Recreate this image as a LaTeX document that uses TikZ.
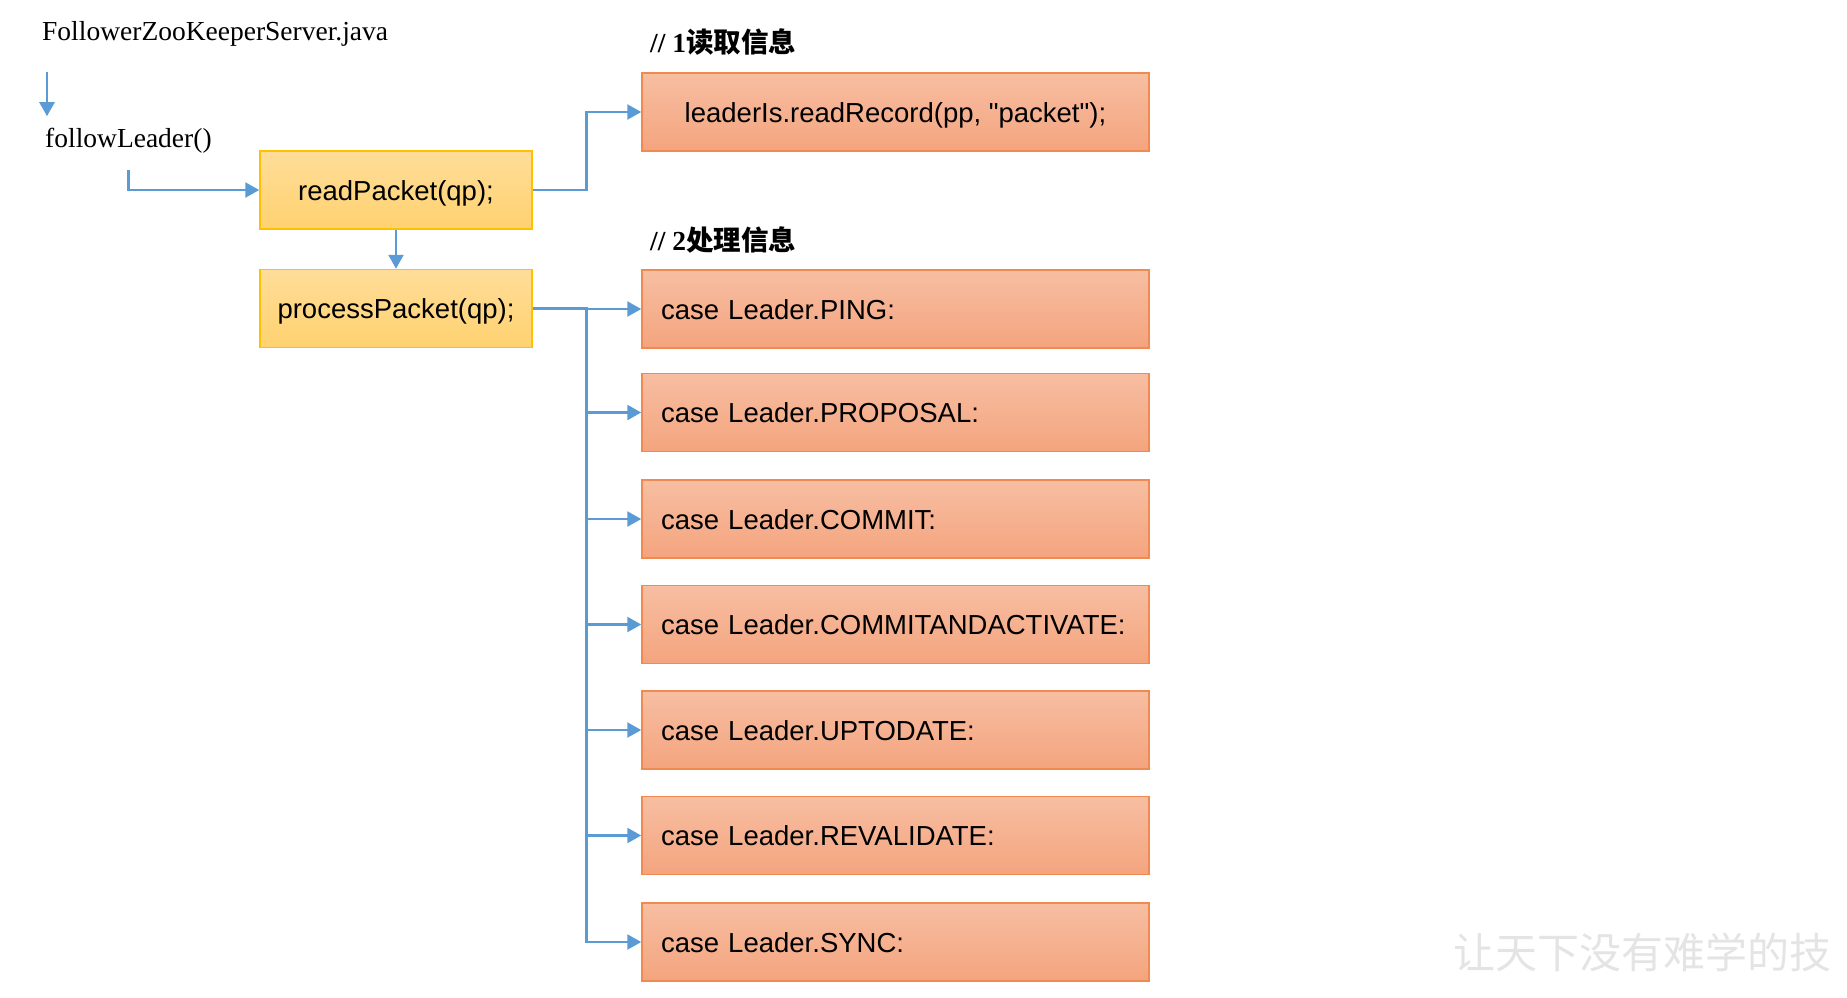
\documentclass[tikz,border=0pt]{standalone}
\usepackage{fontspec}
\setmainfont{Liberation Serif}
\setsansfont{Liberation Sans}[Ligatures=TeXOff]
\newfontfamily\cjk{Noto Sans CJK SC}
\usetikzlibrary{arrows.meta}

\definecolor{flowblue}{RGB}{91,155,213}
\definecolor{calltop}{RGB}{255,221,153}
\definecolor{callbottom}{RGB}{255,210,112}
\definecolor{calledge}{RGB}{255,192,0}
\definecolor{casetop}{RGB}{247,190,162}
\definecolor{casebottom}{RGB}{244,164,126}
\definecolor{caseedge}{RGB}{240,138,80}
\definecolor{markgray}{RGB}{228,228,228}

\begin{document}
\begin{tikzpicture}[x=1pt, y=-1pt,
    callbox/.style={draw=calledge, line width=1.5pt, top color=calltop, bottom color=callbottom,
                    minimum width=272pt, minimum height=78pt, text centered,
                    text height=20pt, text depth=0pt,
                    font=\sffamily\fontsize{27.5}{32}\selectfont},
    orangebox/.style={draw=caseedge, line width=1.5pt, top color=casetop, bottom color=casebottom,
                      minimum height=78pt, text height=20pt, text depth=0pt,
                      font=\sffamily\fontsize{27.5}{32}\selectfont},
    recbox/.style={orangebox, minimum width=507pt, text centered},
    casebox/.style={orangebox, text width=469pt, inner xsep=19pt, align=left},
    plain/.style={inner sep=0pt, anchor=west, font=\fontsize{27.5}{32}\selectfont},
    note/.style={plain, font=\bfseries\fontsize{27.5}{32}\selectfont},
    flow/.style={draw=flowblue, line width=2.5pt, -{Triangle[length=14pt,width=15pt]}}]
    \useasboundingbox (0,0) rectangle (1847,997);

    % caller side
    \node[plain] (file) at (42,34)  {FollowerZooKeeperServer.java};
    \node[plain] (lead) at (45,141) {followLeader()};
    \node[callbox] (read) at (396,190)   {readPacket(qp);};
    \node[callbox] (proc) at (396,308.5) {processPacket(qp);};

    % 1 read
    \node[note] (step1) at (650,42) {// 1{\cjk 读取信息}};
    \node[recbox] (rec) at (895.5,112) {leaderIs.readRecord(pp, "packet");};

    % 2 process
    \node[note] (step2) at (650,240) {// 2{\cjk 处理信息}};
    \node[casebox] (ping)       at (895.5,309)   {case Leader.PING:};
    \node[casebox] (proposal)   at (895.5,412.5) {case Leader.PROPOSAL:};
    \node[casebox] (commit)     at (895.5,519)   {case Leader.COMMIT:};
    \node[casebox] (commitact)  at (895.5,624.5) {case Leader.COMMITANDACTIVATE:};
    \node[casebox] (uptodate)   at (895.5,730)   {case Leader.UPTODATE:};
    \node[casebox] (revalidate) at (895.5,835.5) {case Leader.REVALIDATE:};
    \node[casebox] (sync)       at (895.5,942)   {case Leader.SYNC:};

    \draw[flow] ([xshift=5pt,yshift=-25pt]file.south west) -- ([xshift=2pt,yshift=12pt]lead.north west);
    \draw[flow] ([yshift=-16pt]lead.south) |- (read.west);
    \draw[flow] (read) -- (proc);
    \draw[flow] (read.east) -| ([xshift=-55pt]rec.west) -- (rec.west);
    \foreach \c in {ping, proposal, commit, commitact, uptodate, revalidate, sync}
        \draw[flow] (proc.east) -| ([xshift=-55pt]\c.west) -- (\c.west);

    % watermark
    \node[inner sep=0pt, anchor=west, text=markgray, font=\cjk\fontsize{42}{48}\selectfont]
        (mark) at (1453,952) {让天下没有难学的技};
\end{tikzpicture}
\end{document}
